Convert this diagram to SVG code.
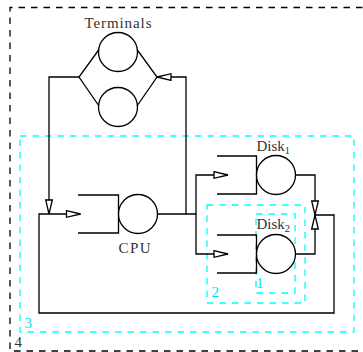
<svg xmlns="http://www.w3.org/2000/svg" width="363" height="352" viewBox="0 0 363 352">
<style>
.ln{fill:none;stroke:#000;stroke-width:1.3}
.st{fill:#fff;stroke:#000;stroke-width:1.3}
.blk{fill:none;stroke:#000;stroke-width:1.3;stroke-dasharray:6.5 6}
.cy{fill:none;stroke:#00ffff;stroke-width:1.3;stroke-dasharray:6.5 6}
.t{font-family:"Liberation Serif","Times New Roman",serif;font-size:15px;fill:#333}
.ct{font-family:"Liberation Serif","Times New Roman",serif;font-size:15px;fill:#00e5e5}
</style>
<defs>
<marker id="arr" markerUnits="userSpaceOnUse" markerWidth="16" markerHeight="10" refX="14.5" refY="4" orient="auto" overflow="visible">
<path d="M0.5,0.7 L14.5,4 L0.5,7.3 Z" fill="#fff" stroke="#000" stroke-width="1.3"/>
</marker>
</defs>
<g id="regions">
<path id="region4" class="blk" d="M400,7.5 H10 V351 H400"/>
<rect id="region3" class="cy" x="20" y="136" width="334" height="196"/>
<rect id="region2" class="cy" x="207" y="205" width="98" height="98"/>
<rect id="region1" class="cy" x="256" y="214" width="39" height="79"/>
<text class="t" x="14.5" y="346.5">4</text>
<text class="ct" x="24.5" y="328">3</text>
<text class="ct" x="211.5" y="297">2</text>
<text class="ct" x="256" y="288">1</text>
</g>
<g id="connectors">
<path class="ln" d="M79,77 H49 V214" marker-end="url(#arr)"/>
<path class="ln" d="M158,214 H186 V77 H157" marker-end="url(#arr)"/>
<path class="ln" d="M186,214 H196 V175 H228" marker-end="url(#arr)"/>
<path class="ln" d="M196,214 V254 H228" marker-end="url(#arr)"/>
<path class="ln" d="M295.5,175 H315 V215" marker-end="url(#arr)"/>
<path class="ln" d="M295.5,254 H315 V215" marker-end="url(#arr)"/>
<path class="ln" d="M315,215 H334 V313 H39 V214 H80.5" marker-end="url(#arr)"/>
</g>
<g id="terminals">
<circle class="st" cx="118" cy="52" r="19.5"/>
<circle class="st" cx="118" cy="107" r="19.5"/>
<path class="ln" d="M99,49.5 L79,77 L99,106 M137,49.5 L157,77 L137,106"/>
<text class="t" x="118" y="28" text-anchor="middle" textLength="67">Terminals</text>
</g>
<g id="cpu">
<path class="ln" d="M78,195 H118.5 V233 H78"/>
<circle class="st" cx="138" cy="214" r="19.5"/>
<text class="t" x="134.5" y="253" text-anchor="middle" textLength="32">CPU</text>
</g>
<g id="disk1">
<path class="ln" d="M217,156 H256.5 V194 H217"/>
<circle class="st" cx="276" cy="175" r="19.5"/>
<text class="t" x="256.5" y="151">Disk<tspan font-size="10.5" dy="2.5">1</tspan></text>
</g>
<g id="disk2">
<path class="ln" d="M217,235 H256.5 V273 H217"/>
<circle class="st" cx="276" cy="254" r="19.5"/>
<text class="t" x="256.5" y="229">Disk<tspan font-size="10.5" dy="2.5">2</tspan></text>
</g>
</svg>
